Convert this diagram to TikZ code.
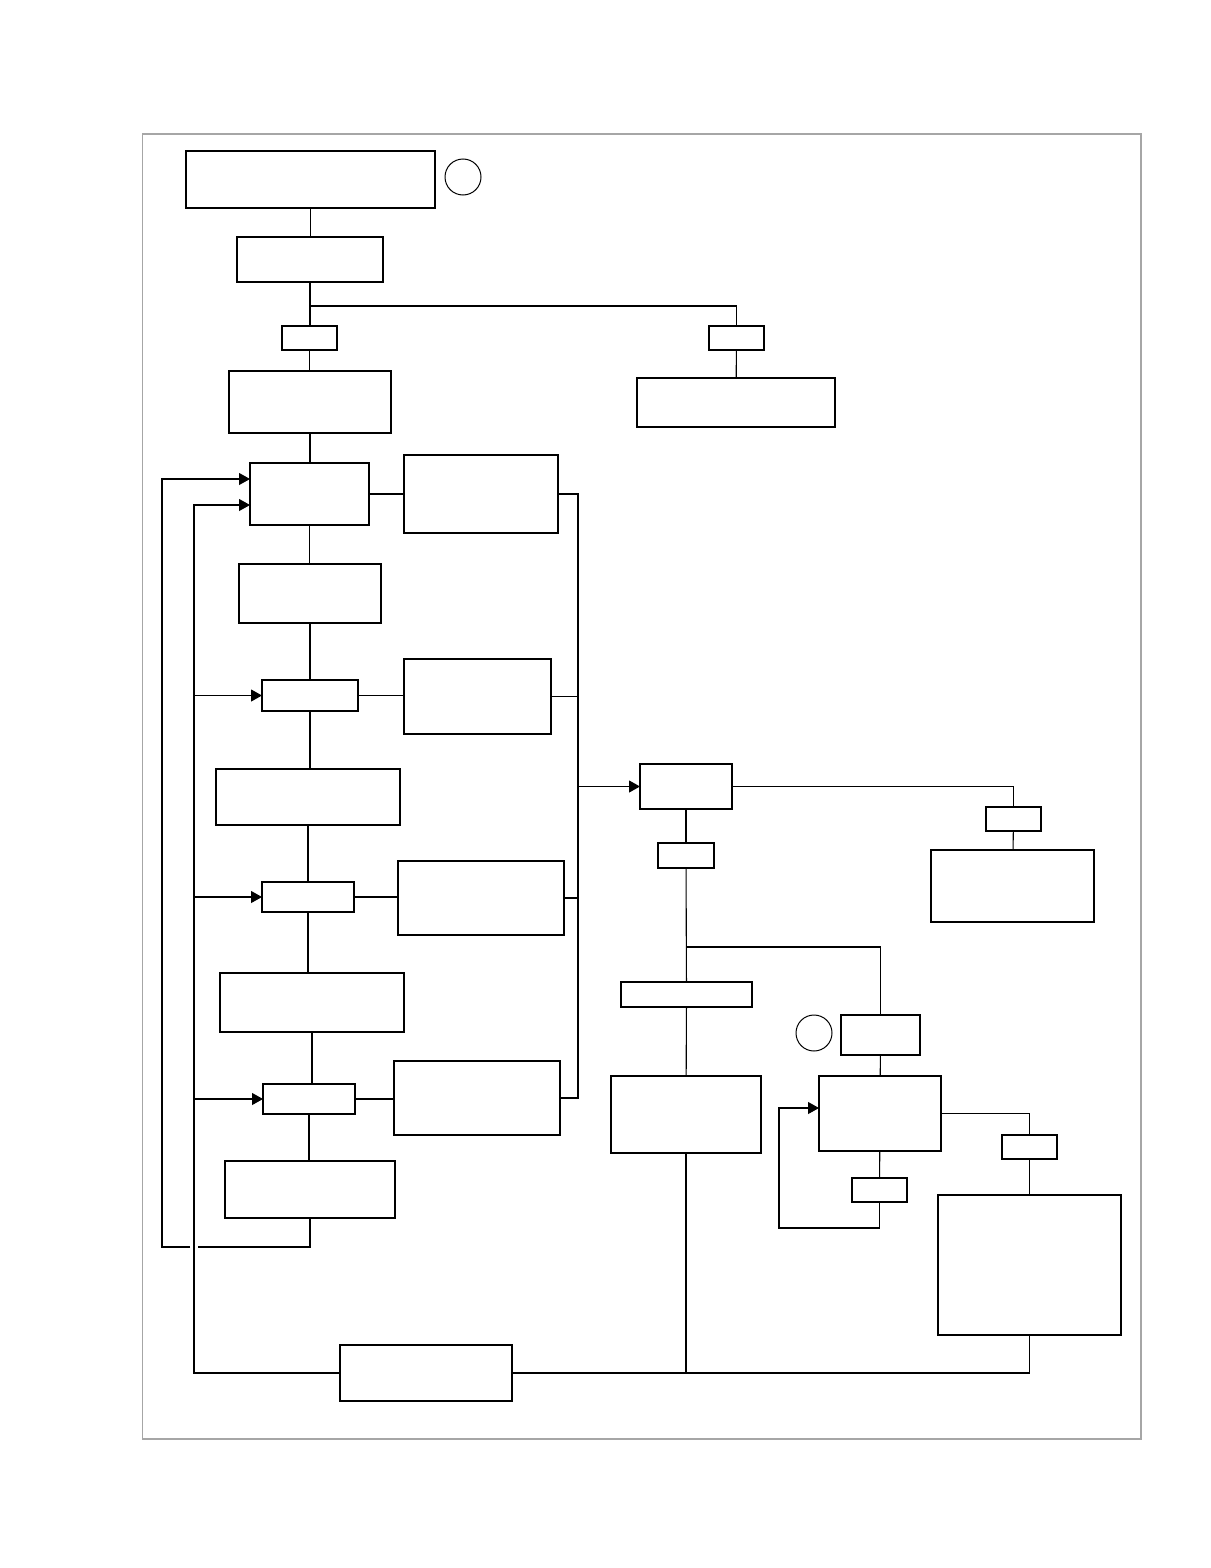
\documentclass[tikz,border=0pt]{standalone}
\usetikzlibrary{arrows.meta,calc}
\tikzset{
  box/.style={draw, line width=0.55pt, rectangle, inner sep=0pt, outer sep=0pt},
  ln/.style={line width=0.55pt},
  arr/.style={ln, -{Triangle[length=5.5pt,width=6pt]}},
  ring/.style={draw, circle, line width=0.5pt, inner sep=0pt, minimum size=18pt}
}
\newcommand\bx[5]{\node[box, minimum width={(#4-#2)*0.5pt}, minimum height={(#5-#3)*0.5pt}] (#1) at ({(#2+#4)/2},{(#3+#5)/2}) {};}
\begin{document}
\begin{tikzpicture}[x=0.5pt,y=-0.5pt]
\useasboundingbox (0,0) rectangle (1210,1568);
\draw[gray!70, line width=0.6pt] (142.5,134) rectangle (1141,1439);
% boxes
\bx{A}{186}{151}{435}{208}
\node[ring] (c1) at (463,177) {};
\bx{B}{237}{237}{383}{282}
\bx{S1}{282}{326}{337}{350}
\bx{S2}{709}{326}{764}{350}
\bx{C}{229}{371}{391}{433}
\bx{D}{637}{378}{835}{427}
\bx{E}{250}{463}{369}{525}
\bx{Er}{404}{455}{558}{533}
\bx{F}{239}{564}{381}{623}
\bx{G}{262}{680}{358}{711}
\bx{Gr}{404}{659}{551}{734}
\bx{H}{216}{769}{400}{825}
\bx{I}{262}{882}{354}{912}
\bx{Ir}{398}{861}{564}{935}
\bx{J}{220}{973}{404}{1032}
\bx{K}{263}{1084}{355}{1114}
\bx{Kr}{394}{1061}{560}{1135}
\bx{L}{225}{1161}{395}{1218}
\bx{M}{340}{1345}{512}{1401}
\bx{N}{640}{764}{732}{809}
\bx{O}{986}{807}{1041}{831}
\bx{P}{931}{850}{1094}{922}
\bx{Q}{658}{843}{714}{868}
\bx{R}{621}{982}{752}{1007}
\bx{S}{611}{1076}{761}{1153}
\bx{T}{841}{1015}{920}{1055}
\node[ring] (c2) at (814,1033) {};
\bx{U}{819}{1076}{941}{1151}
\bx{V}{852}{1178}{907}{1202}
\bx{W}{1002}{1135}{1057}{1159}
\bx{X}{938}{1195}{1121}{1335}
% coordinates
\coordinate (j1) at (310,306);
\coordinate (b1) at (578,494);
\coordinate (b2) at (578,1098);
\coordinate (n1) at (1013.5,786.5);
\coordinate (r1) at (686,947);
\coordinate (v1) at (879.5,1228);
\coordinate (v2) at (779,1228);
\coordinate (u1) at (1029.5,1113.5);
\coordinate (l1) at (194,1373);
\coordinate (l2) at (194,505);
\coordinate (o1) at (310,1247);
\coordinate (o2) at (198,1247);
\coordinate (o3) at (190,1247);
\coordinate (o4) at (162,1247);
\coordinate (o5) at (162,479);
% trunk
\draw[ln] (A.south) -- (A.south |- B.north);
\draw[ln] (B.south) -- (B.south |- S1.north);
\draw[ln] (j1) -| (S2.north);
\draw[ln] (S2) -- (D);
\draw[ln] (S1.south) -- (S1.south |- C.north);
\draw[ln] (C.south) -- (C.south |- E.north);
\draw[ln] (E.south) -- (E.south |- F.north);
\draw[ln] (F.south) -- (F.south |- G.north);
\draw[ln] (G.south) -- (G.south |- H.north);
\draw[ln] (H.south) -- (H.south |- I.north);
\draw[ln] (I.south) -- (I.south |- J.north);
\draw[ln] (J.south) -- (J.south |- K.north);
\draw[ln] (K.south) -- (K.south |- L.north);
% side boxes
\draw[ln] (E.east) -- (E.east -| Er.west);
\draw[ln] (G.east) -- (G.east -| Gr.west);
\draw[ln] (I.east) -- (I.east -| Ir.west);
\draw[ln] (K.east) -- (K.east -| Kr.west);
% bus
\draw[ln] (Er.east) -- (b1) -- (b2) -- (Kr.east);
\draw[ln] (Gr.east) -- (Gr.east -| b1);
\draw[ln] (Ir.east) -- (Ir.east -| b1);
\draw[arr] (b1 |- N.west) -- (N.west);
% right part
\draw[ln] (N.east) -- (n1) -- (O.north);
\draw[ln] (O) -- (P);
\draw[ln] (N) -- (Q);
\draw[ln] (Q) -- (R);
\draw[ln] (R) -- (S);
\draw[ln] (S.south) -- (S.south |- M.east);
\draw[ln] (r1) -| (T.north);
\draw[ln] (T) -- (U);
\draw[ln] (U) -- (V);
\draw[arr] (V.south) -- (v1) -- (v2) |- ($(U.west)+(0,-5.5)$);
\draw[ln] (U.east) -- (u1) -- (W.north);
\draw[ln] (W) -- (X);
\draw[ln] (M.east) -- (X.south |- M.east) -- (X.south);
% left loops
\draw[arr] (M.west) -- (l1) -- (l2) -- ($(E.west)+(0,11)$);
\draw[arr] (l1 |- G.west) -- (G.west);
\draw[arr] (l1 |- I.west) -- (I.west);
\draw[arr] (l1 |- K.west) -- (K.west);
\draw[ln] (L.south) -- (o1) -- (o2);
\draw[arr] (o3) -- (o4) -- (o5) -- ($(E.west)+(0,-15)$);
\end{tikzpicture}
\end{document}
